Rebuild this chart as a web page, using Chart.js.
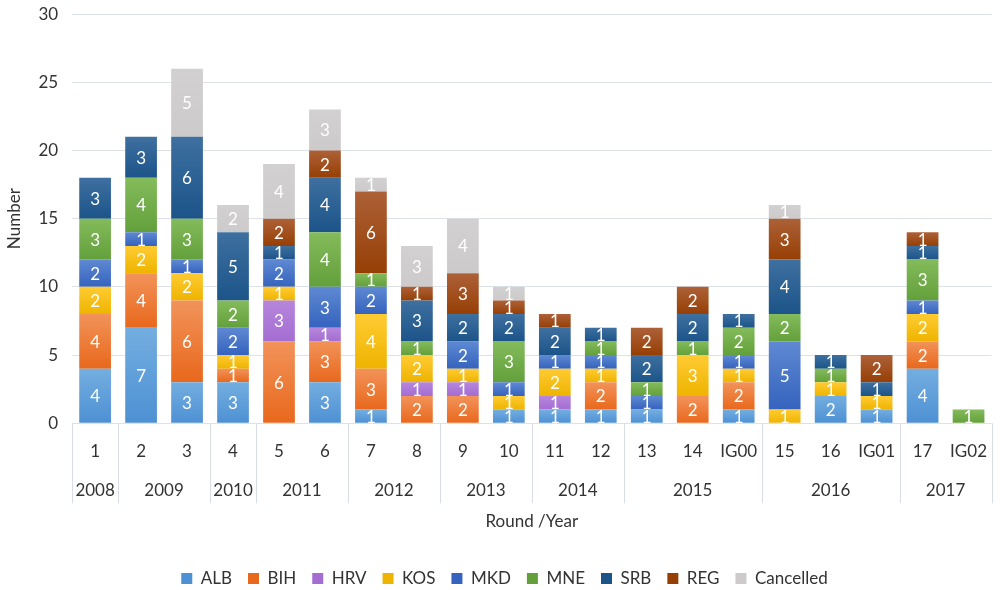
<!DOCTYPE html>
<html>
<head>
<meta charset="utf-8">
<script src="https://cdn.jsdelivr.net/npm/chart.js@4.4.1/dist/chart.umd.min.js"></script>
<style>
  html, body { margin: 0; padding: 0; background: #fff; }
  #wrap { width: 1005px; height: 590px; overflow: hidden; }
  #inner { position: relative; top: -5px; width: 1005px; height: 595px; }
</style>
</head>
<body>
<div id="wrap"><div id="inner"><canvas id="c"></canvas></div></div>
<script>
const rounds = ['1', '2', '3', '4', '5', '6', '7', '8', '9', '10', '11', '12', '13', '14', 'IG00', '15', '16', 'IG01', '17', 'IG02'];
const years = ['2008', '2009', '2009', '2010', '2011', '2011', '2012', '2012', '2013', '2013',
               '2014', '2014', '2015', '2015', '2015', '2016', '2016', '2016', '2017', '2017'];

const alb = [4, 7, 3, 3, 0, 3, 1, 0, 0, 1, 1, 1, 1, 0, 1, 0, 2, 1, 4, 0];
const bih = [4, 4, 6, 1, 6, 3, 3, 2, 2, 0, 0, 2, 0, 2, 2, 0, 0, 0, 2, 0];
const hrv = [0, 0, 0, 0, 3, 1, 0, 1, 1, 0, 1, 0, 0, 0, 0, 0, 0, 0, 0, 0];
const kos = [2, 2, 2, 1, 1, 0, 4, 2, 1, 1, 2, 1, 0, 3, 1, 1, 1, 1, 2, 0];
const mkd = [2, 1, 1, 2, 2, 3, 2, 0, 2, 1, 1, 1, 1, 0, 1, 5, 0, 0, 1, 0];
const mne = [3, 4, 3, 2, 0, 4, 1, 1, 0, 3, 0, 1, 1, 1, 2, 2, 1, 0, 3, 1];
const srb = [3, 3, 6, 5, 1, 4, 0, 3, 2, 2, 2, 1, 2, 2, 1, 4, 1, 1, 1, 0];
const reg = [0, 0, 0, 0, 2, 2, 6, 1, 3, 1, 1, 0, 2, 2, 0, 3, 0, 2, 1, 0];
const cancelled = [0, 0, 5, 2, 4, 3, 1, 3, 4, 1, 0, 0, 0, 0, 0, 1, 0, 0, 0, 0];

const FONT = 'Lato, "Noto Sans", sans-serif';
const TEXT = '#333333';

// [top, bottom] of the vertical gradient in each segment
const palette = {
    ALB: ['#74aee0', '#4d90d3'],
    BIH: ['#f2935a', '#e8681c'],
    HRV: ['#b686dc', '#a46dd2'],
    KOS: ['#ffcb33', '#eeb400'],
    MKD: ['#5f89d2', '#3563be'],
    MNE: ['#84bb5c', '#63a03b'],
    SRB: ['#3e70a0', '#1c5489'],
    REG: ['#ad6138', '#963f05'],
    Cancelled: ['#d2d0d0', '#cccaca'],
};

function segmentFill(name) {
    const [top, bottom] = palette[name];
    return (ctx) => {
        if (ctx.type !== 'data') return bottom;
        const chart = ctx.chart;
        const y = chart.scales.y;
        if (!y) return bottom;
        let start = 0;
        for (let k = 0; k < ctx.datasetIndex; k++) start += chart.data.datasets[k].data[ctx.dataIndex] || 0;
        const end = start + (ctx.raw || 0);
        const y0 = y.getPixelForValue(end);
        const y1 = y.getPixelForValue(start);
        if (!isFinite(y0) || !isFinite(y1) || y0 === y1) return bottom;
        const g = chart.ctx.createLinearGradient(0, y0, 0, y1);
        g.addColorStop(0, top);
        g.addColorStop(1, bottom);
        return g;
    };
}

function series(label, data) {
    return {
        label,
        data,
        backgroundColor: segmentFill(label),
        borderWidth: 0,
        barPercentage: 0.69,
        categoryPercentage: 1,
    };
}

const segmentLabels = {
    id: 'segmentLabels',
    afterDatasetsDraw(chart) {
        const ctx = chart.ctx;
        ctx.save();
        ctx.font = '17px ' + FONT;
        ctx.fillStyle = '#ffffff';
        ctx.textAlign = 'center';
        ctx.textBaseline = 'middle';
        chart.data.datasets.forEach((ds, i) => {
            const meta = chart.getDatasetMeta(i);
            if (meta.hidden) return;
            meta.data.forEach((bar, j) => {
                const v = ds.data[j];
                if (!v) return;
                ctx.fillText(String(v), bar.x, (bar.y + bar.base) / 2 + 1);
            });
        });
        ctx.restore();
    },
};

// second row of x labels (years) and the group separators
const yearGroups = {
    id: 'yearGroups',
    afterDraw(chart) {
        const ctx = chart.ctx;
        const x = chart.scales.x;
        const area = chart.chartArea;
        const step = x.getPixelForValue(1) - x.getPixelForValue(0);
        const lineBottom = area.bottom + 80;
        ctx.save();
        ctx.strokeStyle = '#d9dee6';
        ctx.lineWidth = 1;
        ctx.font = '17px ' + FONT;
        ctx.fillStyle = TEXT;
        ctx.textAlign = 'center';
        ctx.textBaseline = 'middle';
        const edges = [];
        let start = 0;
        for (let i = 1; i <= years.length; i++) {
            if (i === years.length || years[i] !== years[start]) {
                const left = x.getPixelForValue(start) - step / 2;
                const right = x.getPixelForValue(i - 1) + step / 2;
                ctx.fillText(years[start], (left + right) / 2, area.bottom + 67);
                edges.push(left);
                if (i === years.length) edges.push(right);
                start = i;
            }
        }
        edges.forEach(px => {
            const p = Math.round(px) + 0.5;
            ctx.beginPath();
            ctx.moveTo(p, area.bottom);
            ctx.lineTo(p, lineBottom);
            ctx.stroke();
        });
        ctx.restore();
    },
};

new Chart(document.getElementById('c'), {
    type: 'bar',
    data: {
        labels: rounds,
        datasets: [
            series('ALB', alb),
            series('BIH', bih),
            series('HRV', hrv),
            series('KOS', kos),
            series('MKD', mkd),
            series('MNE', mne),
            series('SRB', srb),
            series('REG', reg),
            series('Cancelled', cancelled),
        ],
    },
    options: {
        responsive: true,
        maintainAspectRatio: false,
        animation: false,
        layout: { padding: { top: 0, right: 0, left: 4, bottom: -7 } },
        plugins: {
            legend: {
                position: 'bottom',
                labels: {
                    boxWidth: 11,
                    boxHeight: 11,
                    padding: 16,
                    color: TEXT,
                    font: { family: FONT, size: 17 },
                },
            },
            tooltip: { enabled: false },
        },
        scales: {
            x: {
                stacked: true,
                grid: { display: false, drawTicks: false },
                border: { display: false },
                ticks: { color: TEXT, font: { family: FONT, size: 17 }, padding: 18, maxRotation: 0, autoSkip: false },
                title: {
                    display: true,
                    text: 'Round /Year',
                    color: TEXT,
                    font: { family: FONT, size: 17 },
                    padding: { top: 32, bottom: 22 },
                },
            },
            y: {
                stacked: true,
                min: 0,
                max: 30,
                grid: { color: '#dde2e9', drawTicks: false },
                border: { display: false },
                ticks: { stepSize: 5, color: TEXT, font: { family: FONT, size: 17, lineHeight: 0.6 }, padding: 14 },
                title: {
                    display: true,
                    text: 'Number',
                    color: TEXT,
                    font: { family: FONT, size: 17 },
                    padding: { top: 0, bottom: 0 },
                },
            },
        },
    },
    plugins: [segmentLabels, yearGroups],
});
</script>
</body>
</html>
